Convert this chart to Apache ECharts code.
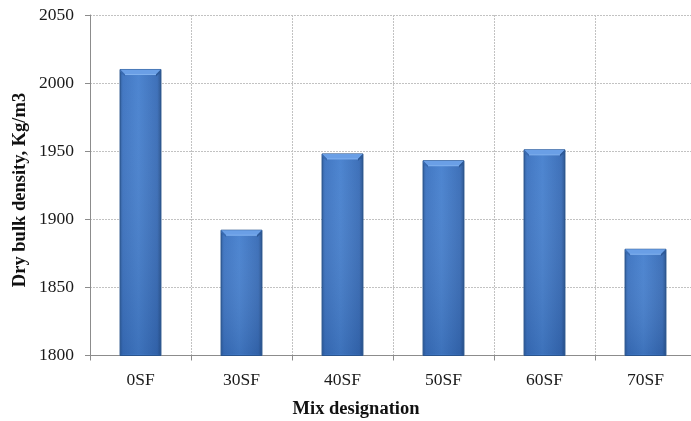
<!DOCTYPE html>
<html>
<head>
<meta charset="utf-8">
<style>
  html, body { margin: 0; padding: 0; background: #ffffff; }
  #chart { width: 691px; height: 421px; }
</style>
<script src="https://cdn.jsdelivr.net/npm/echarts@6/dist/echarts.min.js"></script>
</head>
<body>
<div id="chart"></div>
<script>
// Mix designations and their measured dry bulk densities (kg/m3)
const categories = ['0SF', '30SF', '40SF', '50SF', '60SF', '70SF'];
const densities = [2010, 1892, 1948, 1943, 1951, 1878];
const yTicks = [1800, 1850, 1900, 1950, 2000, 2050];

const yMin = yTicks[0];
const yMax = yTicks[yTicks.length - 1];
const serif = '"Liberation Serif", "DejaVu Serif", serif';

const chart = echarts.init(document.getElementById('chart'), null, { renderer: 'canvas' });

// Bevelled column: body with side shading plus a lighter chamfer on top
function renderBar(params, api) {
  const idx = api.value(0);
  const val = api.value(1);
  const top = api.coord([idx, val]);
  const base = api.coord([idx, yMin]);
  const w = api.size([1, 0])[0] * 0.405;
  const x0 = top[0] - w / 2;
  const x1 = top[0] + w / 2;
  const yt = top[1];
  const yb = base[1];
  const bev = 5;
  return {
    type: 'group',
    children: [
      {
        type: 'rect',
        shape: { x: x0, y: yt, width: w, height: yb - yt },
        style: {
          fill: new echarts.graphic.LinearGradient(0, 0, 1, 0, [
            { offset: 0, color: '#2a5897' },
            { offset: 0.08, color: '#3b72c0' },
            { offset: 0.45, color: '#4680ce' },
            { offset: 0.9, color: '#376bb6' },
            { offset: 1, color: '#264f89' }
          ]),
          stroke: '#2a548c',
          lineWidth: 1
        }
      },
      {
        type: 'rect',
        shape: { x: x0 + 1, y: yt + bev, width: w - 2, height: yb - yt - bev - 1 },
        style: {
          fill: new echarts.graphic.LinearGradient(0, 0, 0, 1, [
            { offset: 0, color: 'rgba(255,255,255,0.04)' },
            { offset: 1, color: 'rgba(20,50,100,0.18)' }
          ])
        }
      },
      {
        type: 'polygon',
        shape: { points: [[x0, yt], [x1, yt], [x1 - bev, yt + bev], [x0 + bev, yt + bev]] },
        style: { fill: '#6a9fe6' }
      },
      {
        type: 'polygon',
        shape: { points: [[x0, yt], [x0 + bev, yt + bev], [x0 + bev, yt + bev + 2], [x0, yt + 2]] },
        style: { fill: '#3a6bb0' }
      },
      {
        type: 'polygon',
        shape: { points: [[x1, yt], [x1 - bev, yt + bev], [x1 - bev, yt + bev + 2], [x1, yt + 2]] },
        style: { fill: '#2e5a97' }
      },
      {
        type: 'line',
        shape: { x1: x0 + bev, y1: yt + bev, x2: x1 - bev, y2: yt + bev },
        style: { stroke: '#82b2ef', lineWidth: 1 }
      }
    ]
  };
}

chart.setOption({
  animation: false,
  backgroundColor: '#ffffff',
  grid: {
    left: 90,
    top: 15,
    width: 606,
    height: 340.5,
    containLabel: false,
    outerBoundsMode: 'none'
  },
  xAxis: {
    type: 'category',
    data: categories,
    boundaryGap: true,
    axisLine: { show: true, lineStyle: { color: '#8c8c8c', width: 1 } },
    axisTick: { show: true, length: 5, lineStyle: { color: '#8c8c8c' } },
    axisLabel: { color: '#1a1a1a', fontFamily: serif, fontSize: 17.5, margin: 16 },
    splitLine: { show: true, lineStyle: { color: '#c2c2c2', type: [2, 1], width: 1 } }
  },
  yAxis: {
    type: 'value',
    min: yMin,
    max: yMax,
    interval: 50,
    axisLine: { show: true, lineStyle: { color: '#8c8c8c', width: 1 } },
    axisTick: { show: true, length: 5, lineStyle: { color: '#8c8c8c' } },
    axisLabel: {
      color: '#1a1a1a', fontFamily: serif, fontSize: 17.5, margin: 16,
      formatter: v => (yTicks.indexOf(v) >= 0 ? String(v) : '')
    },
    splitLine: { show: true, lineStyle: { color: '#c2c2c2', type: [2, 1], width: 1 } }
  },
  series: [{
    type: 'custom',
    renderItem: renderBar,
    encode: { x: 0, y: 1 },
    data: densities.map((d, i) => [i, d]),
    z: 3
  }],
  graphic: [
    {
      type: 'text',
      x: 356, y: 409,
      style: {
        text: 'Mix designation',
        font: 'bold 18.5px ' + serif,
        fill: '#111111',
        align: 'center',
        verticalAlign: 'middle'
      }
    },
    {
      type: 'text',
      x: 20, y: 190,
      rotation: Math.PI / 2,
      style: {
        text: 'Dry bulk density, Kg/m3',
        font: 'bold 18.5px ' + serif,
        fill: '#111111',
        align: 'center',
        verticalAlign: 'middle'
      }
    }
  ]
});
</script>
</body>
</html>
